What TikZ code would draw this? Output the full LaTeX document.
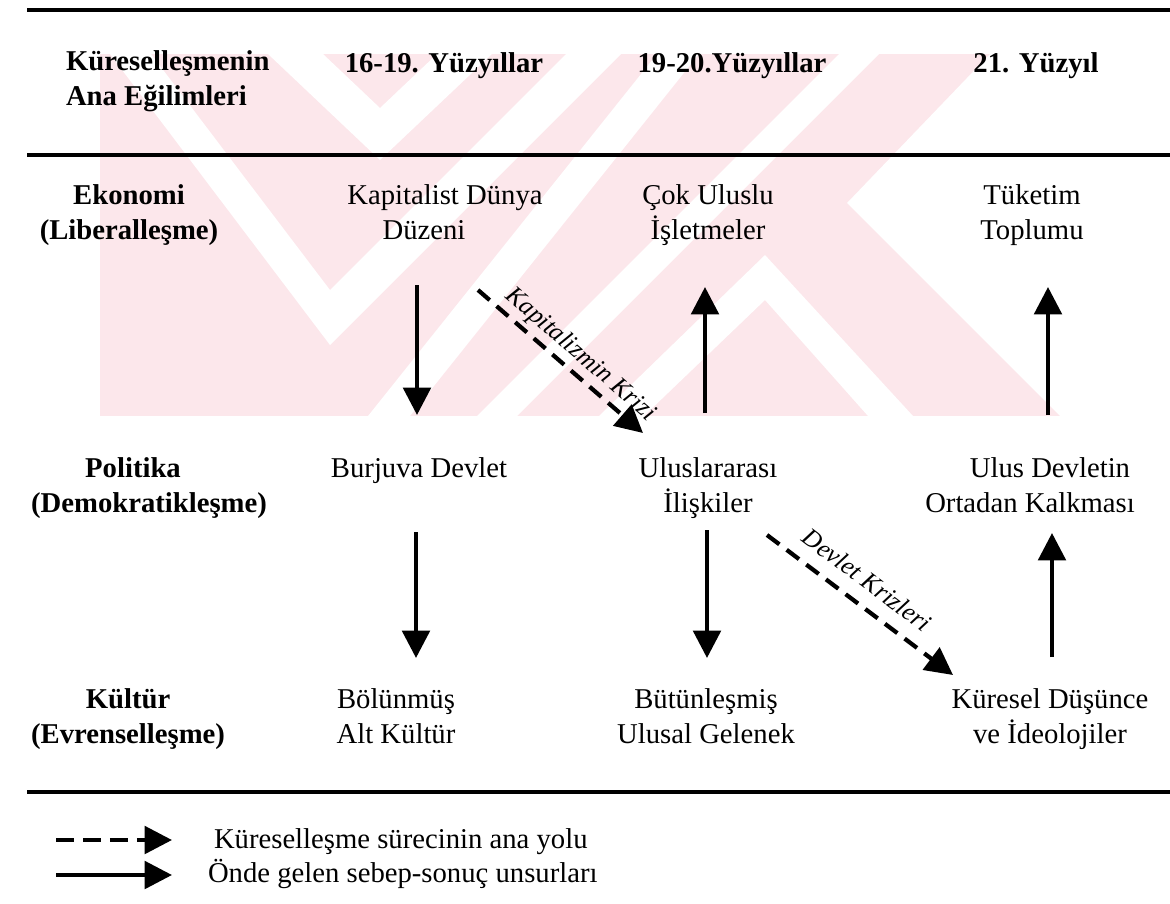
\documentclass[tikz,border=0pt]{standalone}
\usepackage{fontspec}
\setmainfont{Liberation Serif}
\usetikzlibrary{arrows.meta}
\definecolor{wmpink}{RGB}{252,231,235}
\begin{document}
\begin{tikzpicture}[x=0.025cm,y=-0.025cm,
  every node/.style={inner sep=0pt, outer sep=0pt, font=\fontsize{20.4}{24.2}\selectfont},
  txt/.style={align=center, anchor=base},
  hdr/.style={txt, font=\fontsize{20.4}{24.2}\selectfont\bfseries},
  rule/.style={line width=3.2pt},
  flow/.style={line width=3pt, -{Triangle[length=19.5pt,width=19.5pt]}},
  mainpath/.style={flow, dash pattern=on 11pt off 6.5pt},
  keypath/.style={flow, dash pattern=on 12.8pt off 6.4pt},
  crisis/.style={font=\fontsize{18.2}{20}\selectfont\itshape, sloped}
]
\useasboundingbox (0,0) rectangle (1170,903);

% background emblem: pale stripes
\begin{scope}
  \clip (100,54) rectangle (1080,416);
  \fill[wmpink] (100,54) rectangle (1080,416);
  \fill[white] (268,54) -- (380,160) -- (492,54) -- (437,54) -- (380,108) -- (323,54) -- cycle;
  \fill[white] (110,54) -- (330,345) -- (621,54) -- (566,54) -- (330,290) -- (151,54) -- cycle;
  \fill[white] (368,416) -- (657,54) -- (699,54) -- (410,416) -- cycle;
  \fill[white] (477,416) -- (839,54) -- (879,54) -- (517,416) -- cycle;
  \fill[white] (599,416) -- (765,255) -- (913,416) -- (868,416) -- (765,300) -- (644,416) -- cycle;
  \fill[white] (990,54) -- (847,203) -- (1060,416) -- (1080,416) -- (1080,54) -- cycle;
\end{scope}

% horizontal rules
\draw[rule] (27,10) -- (1170,10);
\draw[rule] (27,155) -- (1170,155);
\draw[rule] (27,792) -- (1170,792);

% header row (multi-line nodes sit on the baseline of their last line)
\node[hdr, anchor=base west, align=left] (hmain) at (66,105) {Küreselleşmenin\\Ana Eğilimleri};
\node[hdr] (h1) at (444,72) {16-19. Yüzyıllar};
\node[hdr] (h2) at (732,72) {19-20.Yüzyıllar};
\node[hdr] (h3) at (1036,72) {21. Yüzyıl};

% economy row
\node[hdr] (eko) at (129,239) {Ekonomi\\(Liberalleşme)};
\node[txt] (kap) at (445,239) {Kapitalist Dünya\\Düzeni\hspace*{1.05cm}};
\node[txt] (cok) at (708,239) {Çok Uluslu\\İşletmeler};
\node[txt] (tuk) at (1032,239) {Tüketim\\Toplumu};

% politics row
\node[hdr] (pol) at (149,512) {Politika\hspace*{0.8cm}\\(Demokratikleşme)};
\node[txt] (bur) at (419,477) {Burjuva Devlet};
\node[txt] (ulu) at (708,512) {Uluslararası\\İlişkiler};
\node[txt] (uld) at (1030,512) {\hspace*{1cm}Ulus Devletin\\Ortadan Kalkması};

% culture row
\node[hdr] (kul) at (128,743) {Kültür\\(Evrenselleşme)};
\node[txt] (bol) at (396,743) {Bölünmüş\\Alt Kültür};
\node[txt] (but) at (706,743) {Bütünleşmiş\\Ulusal Gelenek};
\node[txt] (kur) at (1050,743) {Küresel Düşünce\\ve İdeolojiler};

% arrow end points
\coordinate (kapS) at (417,285);  \coordinate (burN) at (417,415);
\coordinate (ulu1) at (705,413);  \coordinate (cokS) at (705,287);
\coordinate (uld1) at (1048,415); \coordinate (tukS) at (1048,287);
\coordinate (burS) at (416,532);  \coordinate (bolN) at (416,658);
\coordinate (uluS) at (707,530);  \coordinate (butN) at (707,658);
\coordinate (kur1) at (1052,657); \coordinate (uldS) at (1052,533);
\coordinate (kapD) at (478,290);  \coordinate (uluD) at (643,433);
\coordinate (uluE) at (767,535);  \coordinate (kurD) at (953,675);

% cause-effect arrows
\draw[flow] (kapS) -- (burN);
\draw[flow] (ulu1) -- (cokS);
\draw[flow] (uld1) -- (tukS);
\draw[flow] (burS) -- (bolN);
\draw[flow] (uluS) -- (butN);
\draw[flow] (kur1) -- (uldS);

% main path of globalisation, labels on the upper side of each line
\draw[mainpath] (kapD) -- node[crisis, above=4.5pt, pos=0.55] (kriz1) {Kapitalizmin Krizi} (uluD);
\draw[mainpath] (uluE) -- node[crisis, above=11pt, pos=0.46] (kriz2) {Devlet Krizleri} (kurD);

% legend
\coordinate (lgA1) at (56,840);  \coordinate (lgA2) at (172,840);
\coordinate (lgB1) at (56,875);  \coordinate (lgB2) at (172,875);
\draw[keypath] (lgA1) -- (lgA2);
\draw[flow] (lgB1) -- (lgB2);
\node[txt, anchor=base west] (lg1) at (214,848) {Küreselleşme sürecinin ana yolu};
\node[txt, anchor=base west] (lg2) at (208,882) {Önde gelen sebep-sonuç unsurları};
\end{tikzpicture}
\end{document}
